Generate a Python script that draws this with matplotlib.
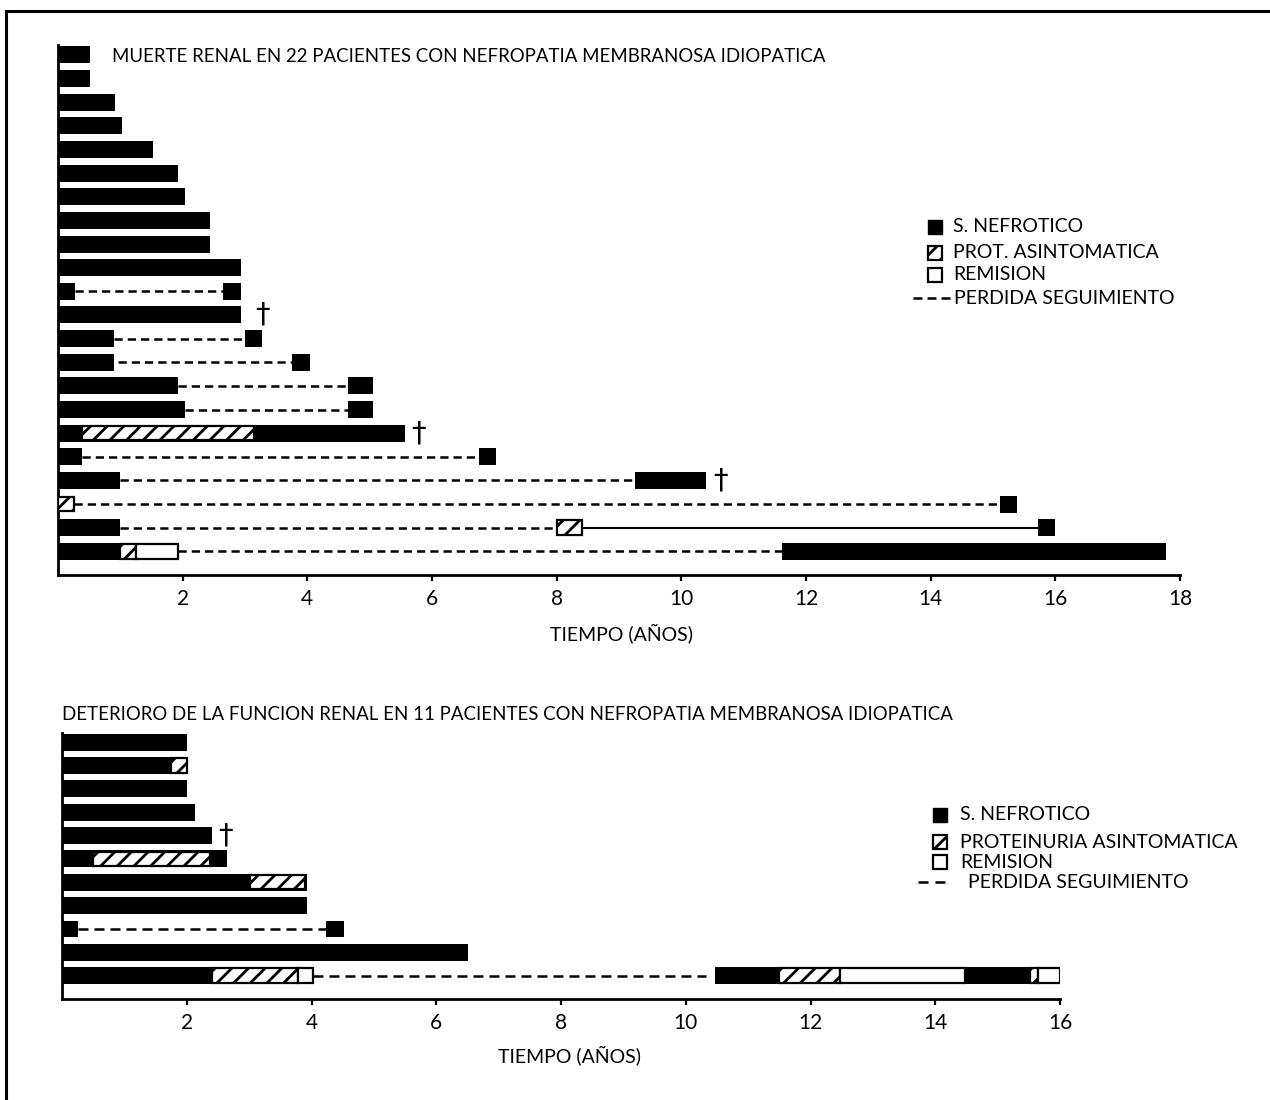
import matplotlib
matplotlib.use("Agg")
import matplotlib.pyplot as plt
from matplotlib.patches import Rectangle

plt.rcParams['font.family'] = ['Liberation Sans Narrow', 'Lato', 'DejaVu Sans']
plt.rcParams['hatch.linewidth'] = 2.0

# ---------------- DATA ----------------
# Top chart: 22 patients, row 1 = top row. Segments are (row, start_year, end_year)
top_title = "MUERTE RENAL EN 22 PACIENTES CON NEFROPATIA MEMBRANOSA IDIOPATICA"
top_rows = 22
top_nephrotic = [
    (1, 0, 0.52), (2, 0, 0.52), (3, 0, 0.91), (4, 0, 1.02), (5, 0, 1.53),
    (6, 0, 1.93), (7, 0, 2.04), (8, 0, 2.44), (9, 0, 2.44), (10, 0, 2.94),
    (11, 0, 0.27), (11, 2.65, 2.94), (12, 0, 2.94),
    (13, 0, 0.90), (13, 3.00, 3.28), (14, 0, 0.90), (14, 3.75, 4.04),
    (15, 0, 1.92), (15, 4.65, 5.05), (16, 0, 2.03), (16, 4.65, 5.05),
    (17, 0, 5.57), (18, 0, 0.38), (18, 6.76, 7.03),
    (19, 0, 1.00), (19, 9.25, 10.40), (20, 15.11, 15.39),
    (21, 0, 1.00), (21, 15.72, 16.00), (22, 0, 1.00), (22, 11.61, 17.78),
]
top_proteinuria = [(17, 0.38, 3.14), (20, 0, 0.25), (21, 8.00, 8.41), (22, 1.00, 1.25)]
top_remission = [(22, 1.25, 1.92)]
top_lost = [
    (11, 0.27, 2.65), (13, 0.90, 3.00), (14, 0.96, 3.75), (15, 1.92, 4.65),
    (16, 2.03, 4.65), (18, 0.38, 6.76), (19, 1.00, 9.25), (20, 0.25, 15.11),
    (21, 1.00, 8.00), (22, 1.92, 11.61),
]
top_solid = [(21, 8.41, 15.72)]
top_deaths = [(12, 3.28), (17, 5.79), (19, 10.63)]
top_xticks = [2, 4, 6, 8, 10, 12, 14, 16, 18]
top_xmax = 18
top_legend = ["S. NEFROTICO", "PROT. ASINTOMATICA", "REMISION", "PERDIDA SEGUIMIENTO"]

# Bottom chart: 11 patients
bot_title = "DETERIORO DE LA FUNCION RENAL EN 11 PACIENTES CON NEFROPATIA MEMBRANOSA IDIOPATICA"
bot_rows = 11
bot_nephrotic = [
    (1, 0, 2.00), (2, 0, 2.00), (3, 0, 2.00), (4, 0, 2.14), (5, 0, 2.40),
    (6, 0, 2.65), (7, 0, 3.92), (8, 0, 3.92), (9, 0, 0.26), (9, 4.23, 4.52),
    (10, 0, 6.51), (11, 0, 2.41), (11, 10.47, 15.52),
]
bot_proteinuria = [(2, 1.75, 2.00), (6, 0.50, 2.37), (7, 3.01, 3.89),
                   (11, 2.41, 3.78), (11, 11.50, 12.48), (11, 15.52, 15.64)]
bot_remission = [(11, 3.78, 4.03), (11, 12.48, 14.48), (11, 15.64, 16.00)]
bot_lost = [(9, 0.26, 4.23), (11, 4.03, 10.33)]
bot_solid = []
bot_deaths = [(5, 2.62)]
bot_xticks = [2, 4, 6, 8, 10, 12, 14, 16]
bot_xmax = 16
bot_legend = ["S. NEFROTICO", "PROTEINURIA ASINTOMATICA", "REMISION", "PERDIDA SEGUIMIENTO"]

xlabel = "TIEMPO (AÑOS)"

# ---------------- FIGURE ----------------
W, H = 1270, 1100
fig = plt.figure(figsize=(W / 100, H / 100), dpi=100)
fig.patch.set_facecolor('white')

BAR_H = 0.72
INNER_H = 0.62
FS = 14
FS_TITLE = 13.4


def px_axes(x0, y_top, x1, y_bot):
    return fig.add_axes([x0 / W, 1 - y_bot / H, (x1 - x0) / W, (y_bot - y_top) / H])


def draw_chart(ax, n_rows, xmax, ytop, nephrotic, proteinuria, remission, lost, solid,
               deaths, xticks, dash):
    def yy(r):
        return n_rows + 1 - r
    for r, a, b in lost:
        ax.plot([a, b], [yy(r), yy(r)], color='black', lw=1.8,
                linestyle=(0, dash), solid_capstyle='butt', zorder=1)
    for r, a, b in solid:
        ax.plot([a, b], [yy(r), yy(r)], color='black', lw=1.5, zorder=1)
    ax.barh([yy(r) for r, a, b in nephrotic], [b - a for r, a, b in nephrotic],
            left=[a for r, a, b in nephrotic], height=BAR_H, color='black',
            linewidth=0, zorder=2)
    if proteinuria:
        ax.barh([yy(r) for r, a, b in proteinuria], [b - a for r, a, b in proteinuria],
                left=[a for r, a, b in proteinuria], height=INNER_H, facecolor='white',
                edgecolor='black', hatch='//', linewidth=1.6, zorder=3)
    if remission:
        ax.barh([yy(r) for r, a, b in remission], [b - a for r, a, b in remission],
                left=[a for r, a, b in remission], height=INNER_H, facecolor='white',
                edgecolor='black', linewidth=1.6, zorder=3)
    for r, x in deaths:
        ax.text(x, yy(r), '\u2020', ha='center', va='center', fontsize=21,
                family='DejaVu Sans', zorder=4)
    ax.set_xlim(0, xmax)
    ax.set_ylim(0, ytop)
    ax.set_xticks(xticks)
    ax.set_xticklabels([str(t) for t in xticks])
    ax.set_yticks([])
    for s in ['top', 'right']:
        ax.spines[s].set_visible(False)
    for s in ['left', 'bottom']:
        ax.spines[s].set_linewidth(2.0)
    ax.tick_params(axis='x', direction='out', length=4, width=1.6, labelsize=FS + 1, pad=6)
    ax.set_facecolor('none')


ax1 = px_axes(58, 45, 1180, 575)
draw_chart(ax1, top_rows, top_xmax, 22.42, top_nephrotic, top_proteinuria, top_remission,
           top_lost, top_solid, top_deaths, top_xticks, (3.3, 2.0))

ax2 = px_axes(62, 733, 1060, 999)
draw_chart(ax2, bot_rows, bot_xmax, 11.39, bot_nephrotic, bot_proteinuria, bot_remission,
           bot_lost, bot_solid, bot_deaths, bot_xticks, (4.0, 2.4))

# overlay in pixel coordinates for titles, labels, legends and frame
ov = fig.add_axes([0, 0, 1, 1])
ov.set_xlim(0, W)
ov.set_ylim(H, 0)
ov.axis('off')
ov.patch.set_alpha(0)

ov.plot([6, 6], [11, H], color='black', lw=2.2)
ov.plot([6, W], [11, 11], color='black', lw=2.2)

ov.text(112, 57, top_title, fontsize=FS_TITLE, va='center', ha='left')
ov.text(62, 715, bot_title, fontsize=FS_TITLE, va='center', ha='left')
ov.text(622, 633, xlabel, fontsize=FS, va='center', ha='center')
ov.text(570, 1055, xlabel, fontsize=FS, va='center', ha='center')


def legend(x_sq, ys, sq, labels, x_txt, dash_x, dash_txt_x, dash_pat):
    kinds = ['black', 'hatch', 'white']
    for i, k in enumerate(kinds):
        y = ys[i]
        if k == 'black':
            ov.add_patch(Rectangle((x_sq, y - sq / 2), sq, sq, facecolor='black', edgecolor='black', lw=1))
        elif k == 'hatch':
            ov.add_patch(Rectangle((x_sq, y - sq / 2), sq, sq, facecolor='white', edgecolor='black',
                                   hatch='//', lw=1.6))
        else:
            ov.add_patch(Rectangle((x_sq, y - sq / 2), sq, sq, facecolor='white', edgecolor='black', lw=1.6))
        ov.text(x_txt, y, labels[i], fontsize=FS, va='center', ha='left')
    ov.plot(dash_x, [ys[3], ys[3]], color='black', lw=1.8, linestyle=(0, dash_pat),
            solid_capstyle='butt')
    ov.text(dash_txt_x, ys[3], labels[3], fontsize=FS, va='center', ha='left')


legend(928, [227, 253, 275, 298], 14, top_legend, 953, [913, 950], 954, (3.6, 2.0))
legend(933, [815, 842, 862, 882], 14, bot_legend, 960, [918, 945], 968, (4.0, 2.8))

fig.savefig("out.png", dpi=100, facecolor='white')
